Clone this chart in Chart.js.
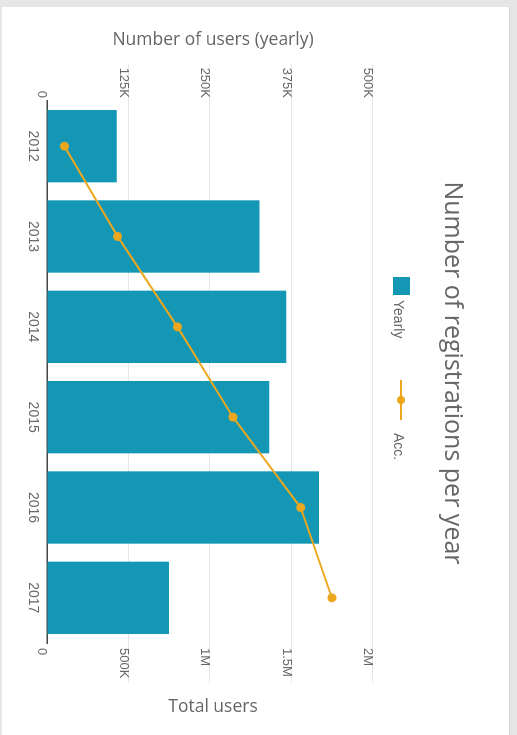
<!DOCTYPE html>
<html>
<head>
<meta charset="utf-8">
<script src="https://cdn.jsdelivr.net/npm/chart.js@4/dist/chart.umd.min.js"></script>
<style>
  html, body { margin: 0; padding: 0; }
  body { width: 517px; height: 735px; overflow: hidden; background: #e6e6e6; position: relative; }
  .card { position: absolute; left: 2px; top: 7px; width: 507px; height: 740px; background: #fff; border-right: 1px solid #d6d6d6; }
  .turn { position: absolute; left: 0; top: 0; width: 735px; height: 517px;
          transform-origin: 0 0; transform: translate(517px, 0) rotate(90deg); }
</style>
</head>
<body>
<div class="card"></div>
<div class="turn"><canvas id="chart" width="735" height="517"></canvas></div>
<script>
// --------- Data ----------
const years        = ['2012', '2013', '2014', '2015', '2016', '2017'];
const yearlyUsers  = [107000, 326000, 367000, 341000, 417000, 187000];
const totalUsers   = [107000, 433000, 800000, 1141000, 1556000, 1748000];
const yearlyTicks  = ['0', '125K', '250K', '375K', '500K'];
const totalTicks   = ['0', '500K', '1M', '1.5M', '2M'];

const titleText  = 'Number of registrations per year';
const leftTitle  = 'Number of users (yearly)';
const rightTitle = 'Total users';

const BAR_COLOR  = '#1497b4';
const LINE_COLOR = '#eda71e';
const TEXT_COLOR = '#666';
const TICK_FONT  = { family: '"Liberation Sans", Arial, sans-serif', size: 13 };

// --------- Titles + legend (drawn by hand, reading like the original) ----------
const extras = {
  id: 'extras',
  afterDraw(chart) {
    const ctx = chart.ctx;
    const midY = 304;
    ctx.save();
    ctx.fillStyle = TEXT_COLOR;
    ctx.textBaseline = 'alphabetic';

    // main title
    ctx.textAlign = 'center';
    ctx.font = '25px "Open Sans"';
    ctx.fillText(titleText, 373, 72);

    // axis titles, both read bottom to top
    ctx.font = '17.5px "Open Sans"';
    [[leftTitle, 45], [rightTitle, 712]].forEach(([txt, x]) => {
      ctx.save();
      ctx.translate(x, midY);
      ctx.rotate(-Math.PI / 2);
      ctx.fillText(txt, 0, 0);
      ctx.restore();
    });

    // legend
    const ds = chart.data.datasets;
    ctx.textAlign = 'left';
    ctx.font = '14px "Liberation Sans", Arial, sans-serif';
    ctx.fillStyle = ds[1].backgroundColor;
    ctx.fillRect(277, 107, 18, 17);
    ctx.fillStyle = TEXT_COLOR;
    ctx.fillText(ds[1].label, 300, 123);

    ctx.strokeStyle = ds[0].borderColor;
    ctx.lineWidth = 2;
    ctx.beginPath();
    ctx.moveTo(380, 116);
    ctx.lineTo(420, 116);
    ctx.stroke();
    ctx.fillStyle = ds[0].borderColor;
    ctx.beginPath();
    ctx.arc(400, 116, 4, 0, Math.PI * 2);
    ctx.fill();
    ctx.fillStyle = TEXT_COLOR;
    ctx.fillText(ds[0].label, 433, 123);
    ctx.restore();
  }
};

// --------- Chart ----------
const ctx = document.getElementById('chart').getContext('2d');
const chart = new Chart(ctx, {
  type: 'bar',
  data: {
    labels: years,
    datasets: [
      {
        type: 'line',
        label: 'Acc.',
        data: totalUsers,
        yAxisID: 'y1',
        order: 0,
        borderColor: LINE_COLOR,
        backgroundColor: LINE_COLOR,
        borderWidth: 2,
        pointRadius: 4.5,
        pointBackgroundColor: LINE_COLOR,
        pointBorderWidth: 0,
        tension: 0
      },
      {
        label: 'Yearly',
        data: yearlyUsers,
        yAxisID: 'y',
        order: 1,
        backgroundColor: BAR_COLOR,
        barPercentage: 0.89,
        categoryPercentage: 0.9
      }
    ]
  },
  options: {
    responsive: false,
    animation: false,
    layout: { padding: { top: 144, left: 0, right: 0, bottom: 0 } },
    plugins: {
      legend: { display: false },
      title: { display: false },
      tooltip: { enabled: false }
    },
    scales: {
      x: {
        grid: { display: false, drawTicks: false },
        border: { display: true, color: '#444', width: 1.5 },
        ticks: { color: TEXT_COLOR, font: { ...TICK_FONT, size: 14 }, padding: 6, maxRotation: 0 },
        afterFit: s => { s.height = 47; }
      },
      y: {
        position: 'left',
        min: 0,
        max: 500000,
        border: { display: false },
        grid: {
          color: c => (c.tick && c.tick.value === 0 ? 'rgba(0,0,0,0)' : '#e6e6e6'),
          tickLength: 37
        },
        ticks: {
          stepSize: 125000,
          color: TEXT_COLOR,
          font: TICK_FONT,
          padding: -34,
          labelOffset: 5,
          callback: (v, i) => yearlyTicks[i]
        },
        afterFit: s => { s.width = 101; }
      },
      y1: {
        position: 'right',
        min: 0,
        max: 2000000,
        border: { display: false },
        grid: {
          drawOnChartArea: false,
          color: c => (c.tick && c.tick.value === 0 ? 'rgba(0,0,0,0)' : '#e6e6e6'),
          tickLength: 40
        },
        ticks: {
          stepSize: 500000,
          color: TEXT_COLOR,
          font: TICK_FONT,
          padding: -35,
          labelOffset: 5,
          callback: (v, i) => totalTicks[i]
        },
        afterFit: s => { s.width = 92; }
      }
    }
  },
  plugins: [extras]
});
</script>
</body>
</html>
